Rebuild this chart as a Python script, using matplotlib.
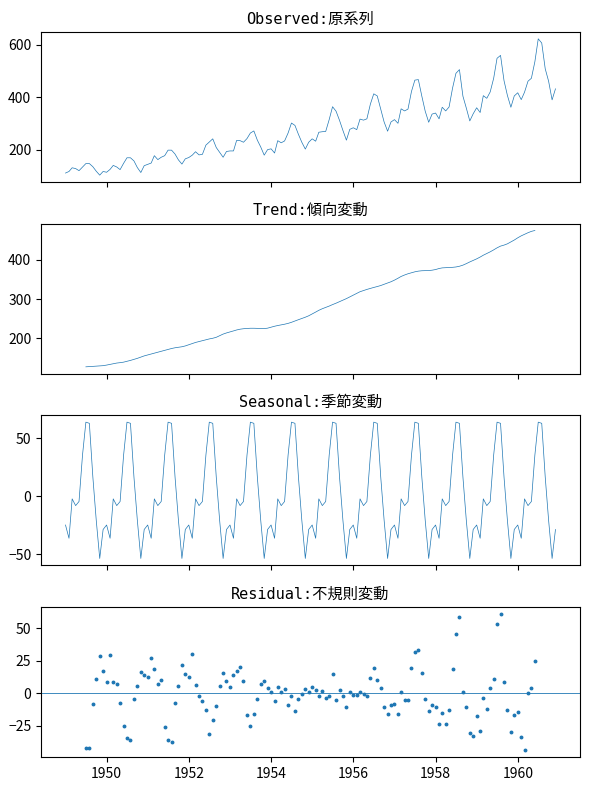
import numpy as np
import pandas as pd
import matplotlib
matplotlib.use("Agg")
import matplotlib.pyplot as plt

plt.rcParams['font.family'] = ['Noto Sans CJK JP', 'DejaVu Sans']

passengers = [
    112, 118, 132, 129, 121, 135, 148, 148, 136, 119, 104, 118,
    115, 126, 141, 135, 125, 149, 170, 170, 158, 133, 114, 140,
    145, 150, 178, 163, 172, 178, 199, 199, 184, 162, 146, 166,
    171, 180, 193, 181, 183, 218, 230, 242, 209, 191, 172, 194,
    196, 196, 236, 235, 229, 243, 264, 272, 237, 211, 180, 201,
    204, 188, 235, 227, 234, 264, 302, 293, 259, 229, 203, 229,
    242, 233, 267, 269, 270, 315, 364, 347, 312, 274, 237, 278,
    284, 277, 317, 313, 318, 374, 413, 405, 355, 306, 271, 306,
    315, 301, 356, 348, 355, 422, 465, 467, 404, 347, 305, 336,
    340, 318, 362, 348, 363, 435, 491, 505, 404, 359, 310, 337,
    360, 342, 406, 396, 420, 472, 548, 559, 463, 407, 362, 405,
    417, 391, 419, 461, 472, 535, 622, 606, 508, 461, 390, 432,
]
start_month = "1949-01-01"
period = 12
titles = ["Observed:原系列", "Trend:傾向変動", "Seasonal:季節変動", "Residual:不規則変動"]

dates = pd.date_range(start_month, periods=len(passengers), freq="MS")
obs = pd.Series(passengers, index=dates, dtype=float)

# additive decomposition (2x12 centered moving average, as seasonal_decompose)
filt = np.repeat(1.0 / period, period + 1)
filt[0] /= 2
filt[-1] /= 2
vals = obs.values
trend_vals = np.full(len(vals), np.nan)
half = period // 2
for i in range(half, len(vals) - half):
    trend_vals[i] = np.dot(filt, vals[i - half:i + half + 1])
trend = pd.Series(trend_vals, index=dates)
detr = obs - trend
month_idx = np.arange(len(vals)) % period
per_avg = np.array([np.nanmean(detr.values[month_idx == m]) for m in range(period)])
per_avg -= per_avg.mean()
seasonal = pd.Series(per_avg[month_idx], index=dates)
resid = obs - trend - seasonal

fig, axes = plt.subplots(4, 1, figsize=(5.9, 7.9), dpi=100, sharex=True)
color = '#1f77b4'
axes[0].plot(obs.index, obs.values, color=color, lw=0.5)
axes[1].plot(trend.index, trend.values, color=color, lw=0.5)
axes[2].plot(seasonal.index, seasonal.values, color=color, lw=0.5)
axes[3].plot(resid.index, resid.values, marker='o', linestyle='none', color=color, markersize=1.8)
axes[3].axhline(0, color=color, lw=0.6)
for ax, t in zip(axes, titles):
    ax.set_title(t, fontsize=11, family=['DejaVu Sans Mono', 'Noto Sans CJK JP'])
    ax.tick_params(labelsize=10)
axes[0].set_yticks([200, 400, 600])
axes[1].set_yticks([200, 300, 400])
axes[2].set_yticks([-50, 0, 50])
axes[3].set_yticks([-25, 0, 25, 50])
fig.subplots_adjust(left=0.0695, right=0.983, top=0.9595, bottom=0.0418, hspace=0.278)
fig.savefig("out.png")
